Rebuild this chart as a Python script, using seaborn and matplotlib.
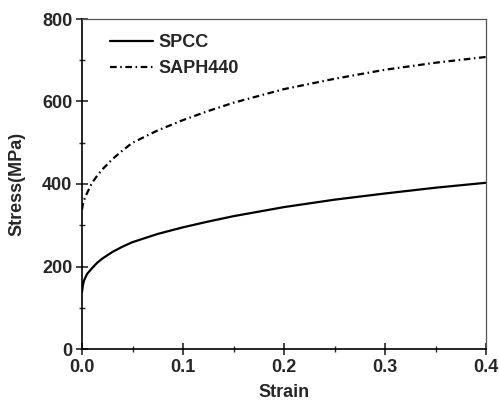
import numpy as np
import pandas as pd
import matplotlib
matplotlib.use("Agg")
import matplotlib.pyplot as plt
import seaborn as sns
from matplotlib.ticker import MultipleLocator

sns.set_style("white")
plt.rcParams["font.family"] = ["Liberation Sans", "DejaVu Sans"]
plt.rcParams["font.weight"] = "bold"

# strain values
strain = [0.0, 0.001, 0.002, 0.005, 0.01, 0.015, 0.02, 0.03, 0.04, 0.05, 0.075,
          0.1, 0.125, 0.15, 0.2, 0.25, 0.3, 0.35, 0.4]

spcc = [138, 156, 166, 182, 196, 209, 219, 235, 248, 259, 279,
        295, 309, 322, 344, 362, 377, 391, 403]

saph440 = [338, 353, 361, 378, 403, 420, 435, 460, 481, 500, 530,
           555, 577, 597, 630, 655, 677, 694, 708]

df = pd.DataFrame({
    "Strain": strain * 2,
    "Stress": spcc + saph440,
    "Material": ["SPCC"] * len(strain) + ["SAPH440"] * len(strain),
})

fig = plt.figure(figsize=(4.99, 4.05), dpi=100)
ax = fig.add_axes([82 / 499, 1 - 349 / 405, 404 / 499, 330 / 405])

sns.lineplot(
    data=df,
    x="Strain",
    y="Stress",
    hue="Material",
    style="Material",
    palette=["black", "black"],
    dashes={"SPCC": "", "SAPH440": (3, 1.6, 0.7, 1.6)},
    linewidth=1.6,
    ax=ax,
)

ax.set_xlim(0, 0.4)
ax.set_ylim(0, 800)
ax.xaxis.set_major_locator(MultipleLocator(0.1))
ax.xaxis.set_minor_locator(MultipleLocator(0.05))
ax.yaxis.set_major_locator(MultipleLocator(200))
ax.yaxis.set_minor_locator(MultipleLocator(100))

ax.tick_params(axis="both", which="major", direction="inout", length=8, width=1.2,
               labelsize=13, pad=3)
ax.tick_params(axis="both", which="minor", direction="inout", length=5, width=1.0)
ax.tick_params(top=False, right=False, left=True, bottom=True, which="both")
for lbl in ax.get_xticklabels() + ax.get_yticklabels():
    lbl.set_fontweight("bold")

ax.set_xlabel("Strain", fontsize=13, fontweight="bold", labelpad=6)
ax.set_ylabel("Stress(MPa)", fontsize=13, fontweight="bold", labelpad=12)

for side in ["left", "bottom"]:
    ax.spines[side].set_color("black")
    ax.spines[side].set_linewidth(1.2)
for side in ["top", "right"]:
    ax.spines[side].set_color("#555555")
    ax.spines[side].set_linewidth(0.9)

ax.legend(
    title=None,
    loc="upper left",
    frameon=False,
    prop={"weight": "bold", "size": 13},
    handlelength=2.4,
    borderpad=0,
    borderaxespad=0,
    labelspacing=0.5,
    handletextpad=0.3,
    bbox_to_anchor=(0.069, 0.955),
)

fig.savefig("out.png", dpi=100)
